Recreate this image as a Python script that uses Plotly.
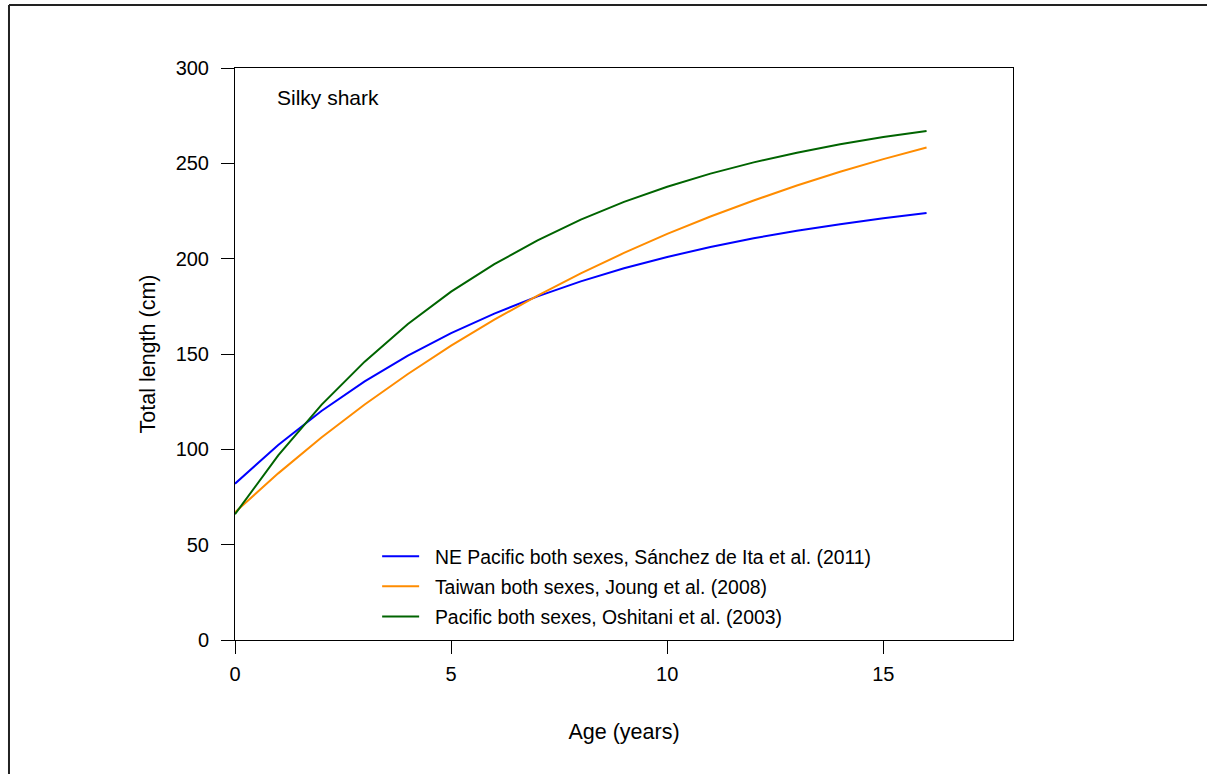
import plotly.graph_objects as go

# Age in years (annual steps)
age = list(range(0, 17))

# Mean total length (cm) at age for each growth study
ne_pacific = [82.0, 102.3, 120.1, 135.6, 149.1, 161.0, 171.2, 180.2, 188.1,
              195.0, 200.9, 206.1, 210.7, 214.6, 218.1, 221.2, 223.9]
taiwan = [67.0, 87.4, 106.2, 123.5, 139.5, 154.4, 168.0, 180.6, 192.3,
          203.0, 213.0, 222.1, 230.5, 238.4, 245.6, 252.2, 258.3]
pacific = [66.0, 96.8, 123.3, 146.0, 165.7, 182.7, 197.1, 209.6, 220.5,
           229.8, 237.7, 244.6, 250.5, 255.6, 260.0, 263.8, 267.0]

series_names = [
    "NE Pacific both sexes, Sánchez de Ita et al. (2011)",
    "Taiwan both sexes, Joung et al. (2008)",
    "Pacific both sexes, Oshitani et al. (2003)",
]
series_values = [ne_pacific, taiwan, pacific]
series_colors = ["#0000ff", "#ff8c00", "#006400"]

x_ticks = [0, 5, 10, 15]
y_ticks = [0, 50, 100, 150, 200, 250, 300]

FONT = "Liberation Sans, Arial, sans-serif"
TICK_FS = 20
TITLE_FS = 21.5
LEGEND_FS = 19.4
NOTE_FS = 21

fig = go.Figure()
for i, (name, vals, col) in enumerate(zip(series_names, series_values, series_colors)):
    fig.add_trace(go.Scatter(
        x=age, y=vals, mode="lines",
        name="\u00a0\u00a0" + name,  # small gap between key line and label
        line=dict(color=col, width=2),
        legendgroup=f"g{i}",
    ))

axis_common = dict(
    showline=True, linecolor="black", linewidth=1, mirror=True,
    ticks="outside", ticklen=13, tickwidth=1, tickcolor="black",
    showgrid=False, zeroline=False,
    tickfont=dict(family=FONT, size=TICK_FS, color="black"),
)

fig.update_layout(
    width=1207, height=774,
    margin=dict(l=235, r=194, t=68, b=134),
    paper_bgcolor="white", plot_bgcolor="white",
    font=dict(family=FONT, size=TICK_FS, color="black"),
    showlegend=True,
    legend=dict(
        x=0.1827, y=0.18, xanchor="left", yanchor="top",
        bgcolor="rgba(0,0,0,0)", borderwidth=0,
        font=dict(family=FONT, size=LEGEND_FS, color="black"),
        tracegroupgap=2, itemwidth=37,
    ),
    xaxis=dict(
        range=[0, 18], tickvals=x_ticks, ticktext=[str(v) for v in x_ticks],
        ticklabelstandoff=3,
        title=dict(text="Age (years)", standoff=39,
                   font=dict(family=FONT, size=TITLE_FS, color="black")),
        **axis_common,
    ),
    yaxis=dict(
        range=[0, 300], tickvals=y_ticks, ticktext=[str(v) for v in y_ticks],
        ticklabelstandoff=8,
        title=dict(text="Total length (cm)", standoff=14,
                   font=dict(family=FONT, size=TITLE_FS, color="black")),
        **axis_common,
    ),
    annotations=[dict(
        text="Silky shark", xref="paper", yref="paper",
        x=0.0514, y=0.948, xanchor="left", yanchor="middle",
        showarrow=False, font=dict(family=FONT, size=NOTE_FS, color="black"),
    )],
    shapes=[
        # outer frame: left and top edges
        dict(type="line", xref="paper", yref="paper",
             x0=-0.2905, y0=-0.6, x1=-0.2905, y1=1.110,
             line=dict(color="#222222", width=2)),
        dict(type="line", xref="paper", yref="paper",
             x0=-0.2905, y0=1.110, x1=1.3, y1=1.110,
             line=dict(color="#222222", width=2)),
    ],
)

fig.write_html("out.html", config={"displayModeBar": False})
